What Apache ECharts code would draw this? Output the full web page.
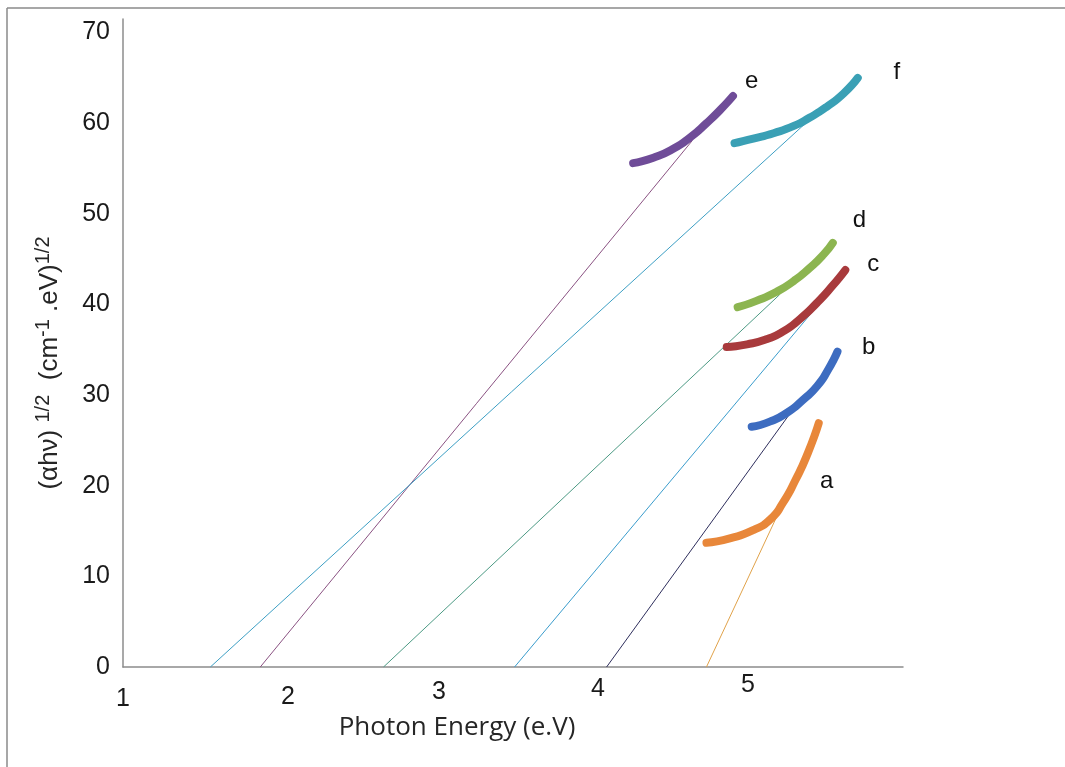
<!DOCTYPE html>
<html>
<head>
<meta charset="utf-8">
<title>Tauc plot</title>
<script src="https://cdn.jsdelivr.net/npm/echarts@6/dist/echarts.min.js"></script>
<style>
  html, body { margin: 0; padding: 0; background: #ffffff; }
  #chart { width: 1065px; height: 767px; }
</style>
</head>
<body>
<div id="chart"></div>
<script>
// Measured (αhν)^1/2 curves for samples a–f, as [photon energy (eV), value]
const curveA = [[4.74, 13.7], [4.89, 14.2], [5.04, 15.1], [5.15, 16.3], [5.23, 18.1], [5.31, 20.6], [5.39, 23.6], [5.46, 26.9]];
const curveB = [[5.03, 26.5], [5.15, 27.1], [5.26, 28.1], [5.36, 29.5], [5.45, 31.0], [5.52, 32.8], [5.58, 34.8]];
const curveC = [[4.87, 35.3], [5.00, 35.6], [5.13, 36.2], [5.23, 37.0], [5.34, 38.4], [5.45, 40.2], [5.55, 42.1], [5.63, 43.8]];
const curveD = [[4.94, 39.7], [5.06, 40.4], [5.19, 41.4], [5.30, 42.6], [5.40, 44.0], [5.49, 45.5], [5.55, 46.8]];
const curveE = [[4.27, 55.6], [4.40, 56.2], [4.53, 57.2], [4.64, 58.5], [4.74, 60.0], [4.83, 61.5], [4.91, 63.0]];
const curveF = [[4.92, 57.8], [5.04, 58.3], [5.17, 58.9], [5.30, 59.7], [5.40, 60.6], [5.51, 61.8], [5.62, 63.3], [5.71, 65.0]];

// Linear extrapolations down to the energy axis (band gap intercepts)
const fitA = [[4.74, 0], [5.21, 17.3]];
const fitB = [[4.10, 0], [5.34, 29.5]];
const fitC = [[3.51, 0], [5.60, 42.9]];
const fitD = [[2.67, 0], [5.21, 41.1]];
const fitE = [[1.88, 0], [4.65, 58.1]];
const fitF = [[1.56, 0], [5.42, 60.7]];

// Sample tags and the point each tag sits at
const tagNames = ['a', 'b', 'c', 'd', 'e', 'f'];
const tagAt = [[5.51, 20.5], [5.78, 35.3], [5.81, 44.4], [5.72, 49.3], [5.03, 64.6], [5.96, 65.6]];

const xTicks = [1, 2, 3, 4, 5];
const yTicks = [0, 10, 20, 30, 40, 50, 60, 70];

const curves = [curveA, curveB, curveC, curveD, curveE, curveF];
const fits = [fitA, fitB, fitC, fitD, fitE, fitF];
const curveColors = ['#e8873a', '#3d6cc0', '#a83a3c', '#8cb550', '#6f4c98', '#3aa0b5'];
const fitColors = ['#e0a24a', '#2e2e5c', '#3a9ccc', '#4c9a84', '#8a5282', '#3d9fc4'];

const chart = echarts.init(document.getElementById('chart'), null, { renderer: 'canvas' });

const series = [];
fits.forEach((pts, i) => {
  series.push({
    type: 'line', data: pts, symbol: 'none', silent: true,
    lineStyle: { color: fitColors[i], width: 1 }, z: 2
  });
});
curves.forEach((pts, i) => {
  series.push({
    type: 'line', data: pts, symbol: 'none', smooth: 0.6, silent: true,
    lineStyle: { color: curveColors[i], width: 8, cap: 'round', join: 'round' }, z: 3,
    markPoint: {
      symbol: 'circle', symbolSize: 0, silent: true,
      label: { show: true, position: 'inside', formatter: tagNames[i],
               color: '#111111', fontFamily: 'Liberation Sans', fontSize: 24 },
      data: [{ coord: tagAt[i] }]
    }
  });
});

// per-tick nudges for the energy labels
const xNudge = { 1: [14, 0, 0, 0], 2: [12, 0, 0, 18], 3: [7, 0, 0, 8], 4: [4, 0, 0, 14], 5: [0, 0, 0, 2] };
const xRich = {};
xTicks.forEach(v => {
  xRich['t' + v] = { padding: xNudge[v], fontFamily: 'Liberation Sans', fontSize: 25, color: '#1a1a1a' };
});

const option = {
  animation: false,
  backgroundColor: '#ffffff',
  grid: { left: 123, right: 162, top: 19, bottom: 100, containLabel: false },
  xAxis: {
    type: 'value', min: 1, max: 6, interval: 1,
    axisLine: { show: true, lineStyle: { color: '#8c8c8c', width: 1.5 } },
    axisTick: { show: false },
    splitLine: { show: false },
    axisLabel: {
      margin: 6,
      formatter: v => xTicks.indexOf(v) >= 0 ? '{t' + v + '|' + v + '}' : '',
      rich: xRich
    }
  },
  yAxis: {
    type: 'value', min: 0, max: 71.5, interval: 10,
    axisLine: { show: true, onZero: false, lineStyle: { color: '#8c8c8c', width: 1.5 } },
    axisTick: { show: false },
    splitLine: { show: false },
    axisLabel: {
      margin: 13,
      formatter: v => yTicks.indexOf(v) >= 0 ? String(v) : '',
      fontFamily: 'Liberation Sans', fontSize: 25, color: '#1a1a1a'
    }
  },
  series: series,
  graphic: [
    { type: 'line', shape: { x1: 7, y1: 8, x2: 1065, y2: 8 }, style: { stroke: '#8a8a8a', lineWidth: 1.5 } },
    { type: 'line', shape: { x1: 7, y1: 8, x2: 7, y2: 767 }, style: { stroke: '#8a8a8a', lineWidth: 1.5 } },
    {
      type: 'text', x: 457, y: 728,
      style: {
        text: 'Photon Energy (e.V)', fontFamily: 'Open Sans', fontSize: 26,
        fill: '#262626', align: 'center', verticalAlign: 'middle'
      }
    },
    {
      type: 'text', x: 50, y: 363, rotation: Math.PI / 2,
      style: {
        text: '(αhν) {s|1/2}  (cm{s|-1} .eV){s|1/2}',
        fontFamily: 'Liberation Sans', fontSize: 26, fill: '#262626',
        align: 'center', verticalAlign: 'middle',
        rich: {
          s: { fontFamily: 'Liberation Sans', fontSize: 20, fill: '#262626', padding: [0, 0, 14, 0] }
        }
      }
    }
  ]
};

chart.setOption(option);
</script>
</body>
</html>
